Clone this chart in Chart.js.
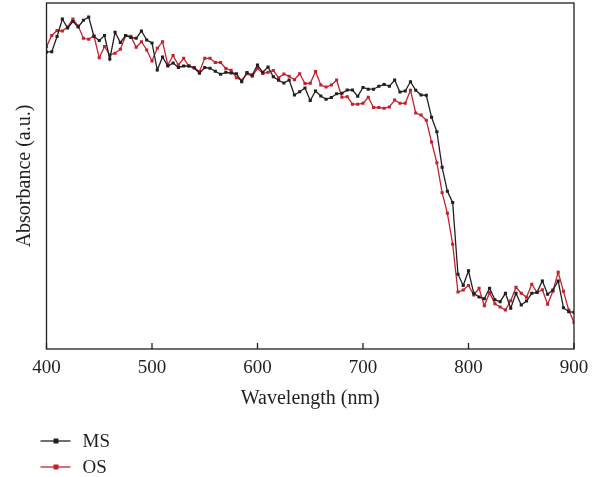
<!DOCTYPE html>
<html><head><meta charset="utf-8">
<script src="https://cdn.jsdelivr.net/npm/chart.js@4/dist/chart.umd.min.js"></script>
<style>html,body{margin:0;padding:0;background:#fff;}#wrap{width:599px;height:477px;position:relative;}</style>
</head><body><div id="wrap"><canvas id="c" width="599" height="477"></canvas></div>
<script>
const wavelengths = [400,405,410,415,420,425,430,435,440,445,450,455,460,465,470,475,480,485,490,495,
500,505,510,515,520,525,530,535,540,545,550,555,560,565,570,575,580,585,590,595,
600,605,610,615,620,625,630,635,640,645,650,655,660,665,670,675,680,685,690,695,
700,705,710,715,720,725,730,735,740,745,750,755,760,765,770,775,780,785,790,795,
800,805,810,815,820,825,830,835,840,845,850,855,860,865,870,875,880,885,890,895,900];

const msValues = [2.970,2.973,3.125,3.300,3.210,3.275,3.220,3.287,3.320,3.125,3.085,3.135,2.900,3.167,3.065,3.135,3.115,3.107,3.180,3.090,
3.060,2.790,2.920,2.830,2.860,2.815,2.830,2.830,2.810,2.757,2.815,2.807,2.777,2.747,2.767,2.760,2.753,2.673,2.765,2.740,
2.840,2.767,2.820,2.723,2.687,2.660,2.690,2.540,2.573,2.610,2.485,2.580,2.530,2.498,2.515,2.552,2.557,2.590,2.590,2.527,
2.615,2.598,2.598,2.627,2.645,2.627,2.690,2.570,2.580,2.673,2.587,2.540,2.537,2.317,2.173,1.817,1.577,1.465,0.748,0.635,
0.782,0.557,0.520,0.503,0.607,0.492,0.473,0.557,0.407,0.557,0.440,0.480,0.557,0.567,0.680,0.547,0.590,0.680,0.413,0.373,0.367];

const osValues = [3.023,3.135,3.185,3.180,3.220,3.300,3.230,3.107,3.097,3.132,2.912,3.025,2.940,2.958,2.998,3.133,3.128,3.017,3.073,2.990,
2.880,3.007,3.073,2.840,2.935,2.840,2.907,2.830,2.815,2.775,2.907,2.907,2.865,2.865,2.805,2.787,2.713,2.687,2.753,2.727,
2.807,2.755,2.767,2.785,2.712,2.750,2.727,2.693,2.753,2.655,2.657,2.775,2.640,2.620,2.640,2.690,2.517,2.523,2.448,2.448,
2.457,2.517,2.415,2.415,2.407,2.420,2.490,2.457,2.457,2.587,2.360,2.340,2.287,2.070,1.863,1.563,1.357,1.048,0.570,0.590,
0.635,0.540,0.607,0.433,0.563,0.453,0.420,0.390,0.482,0.617,0.557,0.518,0.648,0.565,0.593,0.448,0.577,0.767,0.577,0.390,0.265];

const xTickLabels = [400,500,600,700,800,900];
const seriesNames = ['MS','OS'];
const seriesColors = ['#231f20','#c4212e'];

const INK = '#231f20';
const FONT = '"Liberation Serif", "Times New Roman", serif';

const framePlugin = {
  id: 'frame',
  afterDraw(chart) {
    const {ctx, chartArea: a} = chart;
    const xs = chart.scales.x;
    ctx.save();
    ctx.strokeStyle = INK;
    ctx.lineWidth = 1.3;
    ctx.strokeRect(a.left, a.top, a.right - a.left, a.bottom - a.top);
    ctx.beginPath();
    xTickLabels.forEach(v => {
      const px = xs.getPixelForValue(v);
      ctx.moveTo(px, a.bottom);
      ctx.lineTo(px, a.bottom - 6);
    });
    ctx.stroke();
    ctx.restore();
  }
};

const legendPlugin = {
  id: 'stackLegend',
  afterDraw(chart) {
    const {ctx, chartArea: a} = chart;
    chart.data.datasets.forEach((ds, i) => {
      const y = a.bottom + 92 + i * 26;
      const x0 = a.left - 6;
      ctx.save();
      ctx.strokeStyle = ds.borderColor;
      ctx.lineWidth = 1.3;
      ctx.beginPath();
      ctx.moveTo(x0, y);
      ctx.lineTo(x0 + 30, y);
      ctx.stroke();
      ctx.fillStyle = ds.borderColor;
      ctx.fillRect(x0 + 13, y - 2.5, 5, 5);
      ctx.fillStyle = INK;
      ctx.font = '19px ' + FONT;
      ctx.textBaseline = 'middle';
      ctx.textAlign = 'left';
      ctx.fillText(ds.label, x0 + 42, y + 1);
      ctx.restore();
    });
  }
};

const datasets = [msValues, osValues].map((vals, i) => ({
  label: seriesNames[i],
  data: wavelengths.map((w, j) => ({x: w, y: vals[j]})),
  borderColor: seriesColors[i],
  backgroundColor: seriesColors[i],
  borderWidth: 1.3,
  pointStyle: 'rect',
  pointRadius: 2.2,
  pointHoverRadius: 2.2,
  pointBorderWidth: 0,
  tension: 0,
  fill: false
}));

new Chart(document.getElementById('c'), {
  type: 'line',
  data: {datasets},
  options: {
    responsive: false,
    devicePixelRatio: 1,
    animation: false,
    layout: {padding: {top: 3, right: 25, bottom: 64, left: 0}},
    plugins: {legend: {display: false}, tooltip: {enabled: false}},
    scales: {
      x: {
        type: 'linear', min: 400, max: 900,
        afterBuildTicks: s => { s.ticks = xTickLabels.map(v => ({value: v})); },
        afterFit: s => { s.height = 64; },
        grid: {display: false, drawTicks: false},
        border: {display: false},
        ticks: {color: INK, font: {family: FONT, size: 19}, padding: 8, maxRotation: 0},
        title: {display: true, text: 'Wavelength (nm)', color: INK, font: {family: FONT, size: 20}, padding: {top: 0, bottom: 2}}
      },
      y: {
        min: 0, max: 3.46,
        afterFit: s => { s.width = 46.5; },
        grid: {display: false, drawTicks: false},
        border: {display: false},
        ticks: {display: false},
        title: {display: true, text: 'Absorbance (a.u.)', color: INK, font: {family: FONT, size: 20}, padding: {top: 13, bottom: 9}}
      }
    }
  },
  plugins: [framePlugin, legendPlugin]
});
</script>
</body></html>
